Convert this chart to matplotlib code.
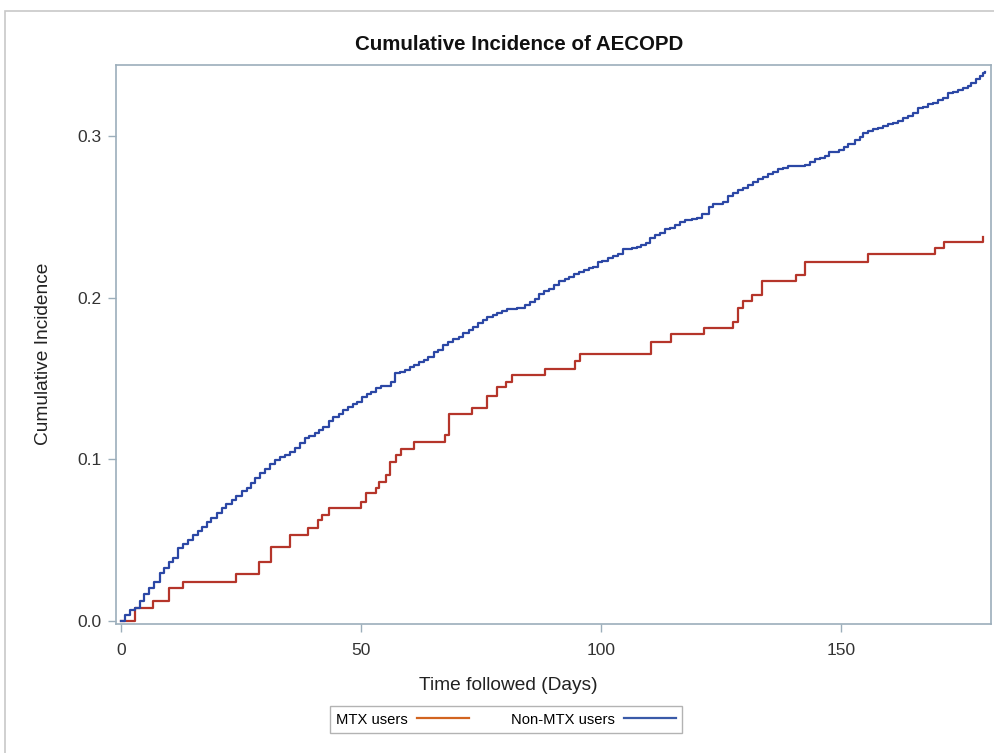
import matplotlib
matplotlib.use("Agg")
from matplotlib import pyplot as plt
from matplotlib.lines import Line2D
from matplotlib.patches import Rectangle

plt.rcParams['font.family'] = ['Liberation Sans', 'DejaVu Sans']

# MTX users
days_mtx = [0, 2.9, 6.7, 10.0, 12.8, 24.0, 28.8, 31.2, 35.2, 39.0,
            41.1, 41.9, 43.2, 50.0, 51.0, 53.1, 53.8, 55.2, 56.0, 57.2,
            58.3, 61.1, 67.4, 68.3, 73.2, 76.2, 78.3, 80.2, 81.4, 88.4,
            94.6, 95.6, 110.4, 114.6, 121.4, 127.6, 128.5, 129.5, 131.5, 133.5,
            140.6, 142.6, 155.6, 169.6, 171.5, 179.6]
inc_mtx = [0, 0.0078, 0.0126, 0.0202, 0.0241, 0.0290, 0.0367, 0.0456, 0.0532, 0.0573,
           0.0625, 0.0656, 0.0697, 0.0738, 0.0790, 0.0821, 0.0862, 0.0903, 0.0985, 0.1027,
           0.1062, 0.1109, 0.1150, 0.1278, 0.1315, 0.1393, 0.1445, 0.1480, 0.1521, 0.1556,
           0.1608, 0.1650, 0.1724, 0.1774, 0.1812, 0.1848, 0.1938, 0.1979, 0.2016, 0.2103,
           0.2140, 0.2218, 0.2270, 0.2309, 0.2346, 0.2377]

# Non-MTX users
days_non = [0, 0.76, 1.8, 2.85, 3.9, 4.8, 5.8, 6.9, 8.06, 9.0,
            9.9, 10.8, 11.9, 12.9, 14.0, 15.0, 15.9, 16.9, 17.8, 18.8,
            19.9, 20.9, 21.9, 23.0, 24.0, 25.1, 26.1, 27.0, 27.8, 28.9,
            29.9, 31.0, 32.1, 33.1, 34.2, 35.2, 36.25, 37.2, 38.2, 39.2,
            40.3, 41.25, 42.1, 43.2, 44.2, 45.3, 46.3, 47.35, 48.2, 49.1,
            50.1, 51.2, 52.1, 53.1, 54.2, 56.25, 57.1, 58.1, 59.2, 60.2,
            61.1, 62.1, 63.1, 64.0, 65.1, 66.1, 67.1, 68.2, 69.2, 70.3,
            71.3, 72.4, 73.4, 74.4, 75.3, 76.3, 77.4, 78.4, 79.3, 80.35,
            82.4, 84.2, 85.1, 86.25, 87.15, 88.1, 89.2, 90.2, 91.3, 92.4,
            93.3, 94.4, 95.4, 96.5, 97.5, 98.4, 99.3, 100.3, 101.4, 102.4,
            103.5, 104.5, 106.4, 107.4, 108.3, 109.3, 110.2, 111.25, 112.3, 113.3,
            114.4, 115.4, 116.5, 117.6, 118.9, 119.9, 121.0, 122.4, 123.4, 125.5,
            126.5, 127.6, 128.6, 129.6, 130.7, 131.7, 132.8, 133.8, 134.9, 135.9,
            136.9, 138.0, 139.0, 142.5, 143.5, 144.6, 145.6, 146.7, 147.6, 149.6,
            150.6, 151.5, 152.9, 154.0, 154.6, 155.7, 156.7, 157.8, 158.8, 159.85,
            160.9, 161.9, 163.0, 164.0, 165.1, 166.1, 167.1, 168.2, 169.2, 170.3,
            171.3, 172.4, 173.4, 174.4, 175.5, 176.4, 177.2, 178.1, 179.0, 179.6,
            180.1]
inc_non = [0, 0.0037, 0.0068, 0.0080, 0.0126, 0.0165, 0.0202, 0.0243, 0.0295, 0.0326,
           0.0363, 0.0388, 0.0453, 0.0474, 0.0501, 0.0532, 0.0557, 0.0583, 0.0614, 0.0639,
           0.0666, 0.0697, 0.0722, 0.0748, 0.0775, 0.0804, 0.0824, 0.0852, 0.0882, 0.0913,
           0.0940, 0.0971, 0.0996, 0.1012, 0.1027, 0.1047, 0.1068, 0.1099, 0.1130, 0.1144,
           0.1165, 0.1181, 0.1198, 0.1239, 0.1263, 0.1280, 0.1305, 0.1322, 0.1342, 0.1356,
           0.1387, 0.1402, 0.1418, 0.1439, 0.1453, 0.1480, 0.1532, 0.1542, 0.1552, 0.1569,
           0.1583, 0.1600, 0.1614, 0.1635, 0.1665, 0.1676, 0.1707, 0.1724, 0.1744, 0.1758,
           0.1779, 0.1800, 0.1820, 0.1841, 0.1861, 0.1882, 0.1892, 0.1903, 0.1917, 0.1930,
           0.1938, 0.1954, 0.1971, 0.1991, 0.2020, 0.2041, 0.2053, 0.2078, 0.2100, 0.2115,
           0.2129, 0.2144, 0.2156, 0.2171, 0.2181, 0.2191, 0.2218, 0.2228, 0.2243, 0.2257,
           0.2268, 0.2299, 0.2309, 0.2315, 0.2325, 0.2336, 0.2367, 0.2387, 0.2401, 0.2422,
           0.2432, 0.2449, 0.2466, 0.2480, 0.2486, 0.2494, 0.2515, 0.2562, 0.2579, 0.2589,
           0.2628, 0.2645, 0.2665, 0.2680, 0.2696, 0.2717, 0.2732, 0.2748, 0.2762, 0.2779,
           0.2794, 0.2803, 0.2814, 0.2820, 0.2837, 0.2855, 0.2865, 0.2876, 0.2902, 0.2913,
           0.2933, 0.2948, 0.2975, 0.2995, 0.3020, 0.3032, 0.3041, 0.3051, 0.3061, 0.3072,
           0.3082, 0.3094, 0.3109, 0.3123, 0.3144, 0.3171, 0.3181, 0.3195, 0.3205, 0.3222,
           0.3236, 0.3263, 0.3273, 0.3284, 0.3294, 0.3309, 0.3325, 0.3350, 0.3370, 0.3387,
           0.3395]

x_ticks = [0, 50, 100, 150]
y_ticks = [0.0, 0.1, 0.2, 0.3]
y_ticklabels = ['0.0', '0.1', '0.2', '0.3']

red = '#b5352a'
blue = '#2b47a5'
spine_col = '#9caebb'

fig = plt.figure(figsize=(9.95, 7.53), dpi=100)
ax = fig.add_axes([0.1166, 0.1713, 0.879, 0.7424])

ax.plot(days_mtx, inc_mtx, drawstyle='steps-post', color=red, lw=1.6)
ax.plot(days_non, inc_non, drawstyle='steps-post', color=blue, lw=1.6)

ax.set_xlim(-1.1, 181.2)
ax.set_ylim(-0.0019, 0.3438)
ax.set_xticks(x_ticks)
ax.set_yticks(y_ticks)
ax.set_yticklabels(y_ticklabels)

for s in ax.spines.values():
    s.set_color(spine_col)
    s.set_linewidth(1.2)
ax.tick_params(direction='out', length=5.5, width=1, color=spine_col,
               labelsize=12.5, labelcolor='#333333')
ax.tick_params(axis='x', pad=8)
ax.tick_params(axis='y', pad=5)

# axis labels placed like the SAS output (centred on the graph area)
fig.text(508.5 / 995, 1 - 686 / 753, 'Time followed (Days)', ha='center', va='center',
         fontsize=13.8, color='#222222')
fig.text(44 / 995, 1 - 353.5 / 753, 'Cumulative Incidence', ha='center', va='center',
         rotation=90, fontsize=13.8, color='#222222')
fig.text(519 / 995, 1 - 44 / 753, 'Cumulative Incidence of AECOPD', ha='center', va='center',
         fontsize=14.8, fontweight='bold', color='#111111')

handles = [Line2D([], [], color='#d2641f', lw=1.6),
           Line2D([], [], color='#3a5aa8', lw=1.6)]
leg = ax.legend(handles, ['MTX users', 'Non-MTX users'], ncol=2, markerfirst=False,
                loc='center', bbox_to_anchor=(506 / 995, 1 - 719.5 / 753),
                bbox_transform=fig.transFigure,
                fancybox=False, edgecolor='#a0a0a0', fontsize=10.6, handlelength=3.5,
                columnspacing=2.9, borderpad=0.42, handletextpad=0.6)
leg.get_frame().set_linewidth(1.0)

# outer light frame of the screenshot
fig.add_artist(Rectangle((5 / 995, -0.1), 1.1, (753 - 11) / 753 + 0.1,
                         transform=fig.transFigure, fill=False,
                         edgecolor='#c8c8c8', lw=1.2))

fig.savefig('out.png', dpi=100)
